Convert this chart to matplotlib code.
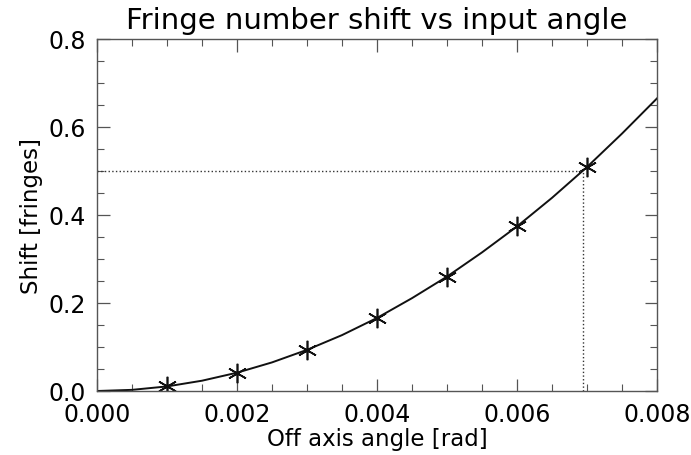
import numpy as np
import matplotlib
matplotlib.use("Agg")
import matplotlib.pyplot as plt
from matplotlib.ticker import MultipleLocator

# measured points (asterisks)
angle = [0.001, 0.002, 0.003, 0.004, 0.005, 0.006, 0.007]
shift = [0.0104, 0.0416, 0.0935, 0.166, 0.260, 0.374, 0.509]

# smooth curve
curve_x = [0.0, 0.0005, 0.001, 0.0015, 0.002, 0.0025, 0.003, 0.0035, 0.004,
           0.0045, 0.005, 0.0055, 0.006, 0.0065, 0.007, 0.0075, 0.008]
curve_y = [0.0, 0.0026, 0.0104, 0.0234, 0.0416, 0.065, 0.0935, 0.127, 0.166,
           0.211, 0.260, 0.315, 0.374, 0.439, 0.509, 0.585, 0.665]

# half-fringe crossing
half_shift = 0.5
half_angle = 0.00694

plt.rcParams['font.family'] = ['DejaVu Sans']

fig = plt.figure(figsize=(6.91, 4.56), dpi=100)
ax = fig.add_axes([97/691, 1 - 392/456, (657-97)/691, (392-40)/456])

ax.plot(curve_x, curve_y, color='#111111', lw=1.4)
ax.plot(angle, shift, ls='none', marker=(6, 2, 0), ms=14, mew=1.2, color='#111111')

ax.plot([0, half_angle], [half_shift, half_shift], ls=':', color='#333333', lw=1.0)
ax.plot([half_angle, half_angle], [0, half_shift], ls=':', color='#333333', lw=1.0)

ax.set_xlim(0, 0.008)
ax.set_ylim(0, 0.8)
ax.xaxis.set_major_locator(MultipleLocator(0.002))
ax.xaxis.set_minor_locator(MultipleLocator(0.0005))
ax.yaxis.set_major_locator(MultipleLocator(0.2))
ax.yaxis.set_minor_locator(MultipleLocator(0.05))
ax.xaxis.set_major_formatter(plt.FuncFormatter(lambda v, p: "%.3f" % v))
ax.yaxis.set_major_formatter(plt.FuncFormatter(lambda v, p: "%.1f" % v))

ax.tick_params(which='both', direction='in', top=True, right=True, color='#555555')
ax.tick_params(which='major', length=9, width=0.9, labelsize=17)
ax.tick_params(axis='x', which='major', pad=8)
ax.tick_params(axis='y', which='major', pad=8)
ax.tick_params(which='minor', length=5, width=0.8)
for s in ax.spines.values():
    s.set_color('#555555')
    s.set_linewidth(1.0)

ax.set_title("Fringe number shift vs input angle", fontsize=21, pad=8)
ax.set_xlabel("Off axis angle [rad]", fontsize=16.5, labelpad=1)
ax.set_ylabel("Shift [fringes]", fontsize=16.5, labelpad=4)

fig.savefig("out.png", dpi=100)
